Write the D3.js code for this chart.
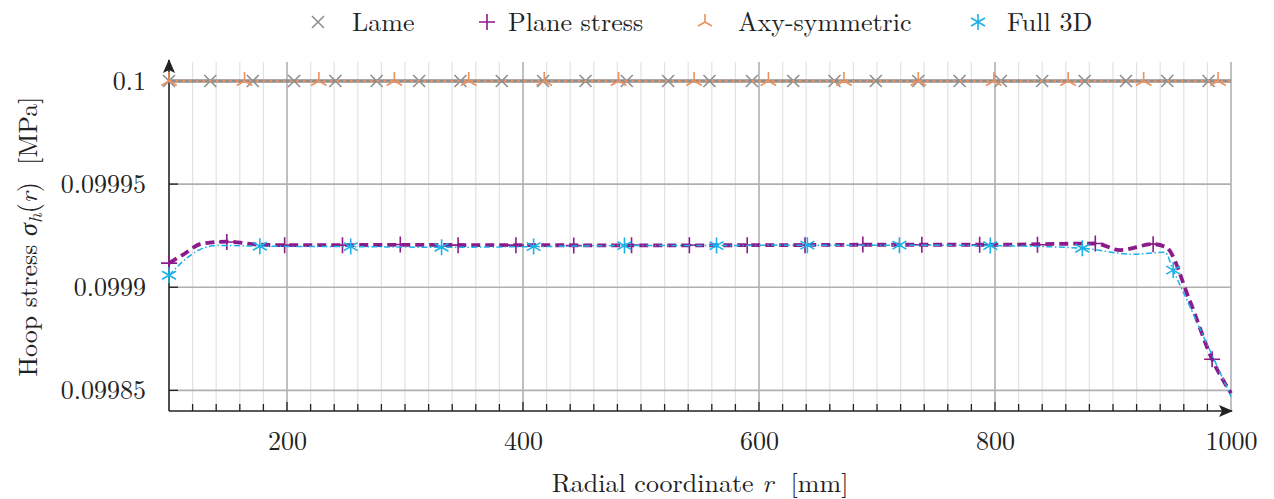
<!DOCTYPE html>
<html>
<head>
<meta charset="utf-8">
<script src="https://cdn.jsdelivr.net/npm/d3@7"></script>
<style>
  body { margin: 0; background: #fff; }
</style>
</head>
<body>
<svg id="chart" width="1274" height="499"></svg>
<script>
// ---- data ----
const xTicks = [200, 400, 600, 800, 1000]
const yTicks = [0.1, 0.09995, 0.0999, 0.09985]

// Lame: flat line, markers every few nodes
const lameLineR = [100, 1000]
const lameLineV = [0.1, 0.1]
const lameMarkR = [100, 135, 171, 206, 241, 276, 312, 347, 382, 417, 453, 488, 523,
  558, 594, 629, 664, 699, 735, 770, 805, 840, 876, 911, 946, 981]
const lameMarkV = [0.1, 0.1, 0.1, 0.1, 0.1, 0.1, 0.1, 0.1, 0.1, 0.1, 0.1, 0.1, 0.1,
  0.1, 0.1, 0.1, 0.1, 0.1, 0.1, 0.1, 0.1, 0.1, 0.1, 0.1, 0.1, 0.1]

// Axy-symmetric
const axyLineR = [100, 1000]
const axyLineV = [0.1, 0.1]
const axyMarkR = [100, 164, 227, 291, 354, 418, 481, 545, 608, 672, 735, 799, 862, 926, 989]
const axyMarkV = [0.1, 0.1, 0.1, 0.1, 0.1, 0.1, 0.1, 0.1, 0.1, 0.1, 0.1, 0.1, 0.1, 0.1, 0.1]

// Plane stress
const planeLineR = [100, 112, 128, 149, 175, 198, 300, 400, 500, 600, 700, 800, 885, 906, 934, 945, 965, 984, 1000]
const planeLineV = [0.0999117, 0.0999158, 0.0999212, 0.0999221, 0.0999207, 0.0999204, 0.0999205,
  0.0999204, 0.0999203, 0.0999204, 0.0999206, 0.0999206, 0.0999212, 0.099918, 0.0999209,
  0.0999194, 0.0998935, 0.0998651, 0.0998486]
const planeMarkR = [100, 149, 198, 247, 296, 345, 394, 443, 492, 541, 590, 639, 688, 738, 787, 836, 885, 934, 984]
const planeMarkV = [0.0999117, 0.0999219, 0.0999204, 0.0999204, 0.0999207, 0.0999204, 0.0999204,
  0.0999202, 0.0999204, 0.0999204, 0.0999204, 0.0999204, 0.0999207, 0.0999206, 0.0999206,
  0.0999206, 0.0999212, 0.0999209, 0.0998651]

// Full 3D
const fullLineR = [100, 113, 127, 142, 177, 254, 331, 409, 486, 564, 641, 719, 796, 874, 917, 944, 951, 975, 1000]
const fullLineV = [0.0999058, 0.0999131, 0.0999185, 0.0999203, 0.0999199, 0.0999197, 0.0999194,
  0.0999197, 0.0999202, 0.0999202, 0.0999204, 0.0999204, 0.0999202, 0.0999189, 0.099916,
  0.099917, 0.0999083, 0.0998783, 0.0998471]
const fullMarkR = [100, 177, 254, 331, 409, 486, 564, 641, 719, 796, 874, 951]
const fullMarkV = [0.0999058, 0.0999199, 0.0999197, 0.0999194, 0.0999197, 0.0999202, 0.0999202,
  0.0999204, 0.0999204, 0.0999202, 0.0999189, 0.0999083]

const legendNames = ['Lame', 'Plane stress', 'Axy-symmetric', 'Full 3D']

// ---- layout ----
const width = 1274
const height = 499
const box = { left: 169, right: 1231, top: 62, bottom: 411 }
const fontSize = 26
const serif = '"Latin Modern Roman"'

const colors = {
  lame: '#8f8f8f',
  axy: '#ea9160',
  plane: '#8b1a8b',
  full: '#1ab1ea',
}

const svg = d3.select('#chart')

svg.append('rect').attr('width', width).attr('height', height).attr('fill', '#fff')

const x = d3.scaleLinear([100, 1000], [box.left, box.right])
const y = d3.scaleLinear([0.09984, 0.1000092], [box.bottom, box.top])

// marker shapes
const markerPath = {
  cross: (s) => `M${-s},${-s}L${s},${s}M${-s},${s}L${s},${-s}`,
  plus: (s) => `M${-s},0H${s}M0,${-s}V${s}`,
  tri: (s) => {
    const a = Math.cos(Math.PI / 6) * s, b = Math.sin(Math.PI / 6) * s
    return `M0,0V${-s}M0,0L${-a},${b}M0,0L${a},${b}`
  },
  star: (s) => {
    const a = Math.cos(Math.PI / 6) * s, b = Math.sin(Math.PI / 6) * s
    return `M0,${-s}V${s}M${-a},${-b}L${a},${b}M${-a},${b}L${a},${-b}`
  },
}

// ---- grid ----
const grid = svg.append('g').attr('id', 'grid')
const minorX = d3.range(120, 1000, 20).filter((d) => d % 200 !== 0)
grid.selectAll('.minor')
  .data(minorX)
  .join('line')
  .attr('x1', (d) => x(d)).attr('x2', (d) => x(d))
  .attr('y1', box.top).attr('y2', box.bottom)
  .attr('stroke', '#e2e2e2').attr('stroke-width', 1.2)

grid.selectAll('.majorx')
  .data(xTicks)
  .join('line')
  .attr('x1', (d) => x(d)).attr('x2', (d) => x(d))
  .attr('y1', box.top).attr('y2', box.bottom)
  .attr('stroke', '#b0b0b0').attr('stroke-width', 1.6)

grid.selectAll('.majory')
  .data(yTicks)
  .join('line')
  .attr('x1', box.left).attr('x2', box.right)
  .attr('y1', (d) => y(d)).attr('y2', (d) => y(d))
  .attr('stroke', '#b0b0b0').attr('stroke-width', 1.6)

// ---- axes ----
const defs = svg.append('defs')
defs.append('marker')
  .attr('id', 'arrow')
  .attr('viewBox', '0 -6 14 12')
  .attr('refX', 13).attr('refY', 0)
  .attr('markerUnits', 'userSpaceOnUse')
  .attr('markerWidth', 14).attr('markerHeight', 12)
  .attr('orient', 'auto')
  .append('path')
  .attr('d', 'M0,-6L14,0L0,6L3,0Z')
  .attr('fill', '#222')

const axes = svg.append('g').attr('id', 'axes')

// x ticks (inward)
axes.selectAll('.xtick')
  .data(d3.range(120, 1000, 20))
  .join('line')
  .attr('x1', (d) => x(d)).attr('x2', (d) => x(d))
  .attr('y1', box.bottom).attr('y2', (d) => box.bottom - (d % 200 === 0 ? 9 : 7))
  .attr('stroke', '#222').attr('stroke-width', 1.3)

// y ticks (inward)
axes.selectAll('.ytick')
  .data(yTicks)
  .join('line')
  .attr('x1', box.left).attr('x2', box.left + 9)
  .attr('y1', (d) => y(d)).attr('y2', (d) => y(d))
  .attr('stroke', '#222').attr('stroke-width', 1.3)

axes.append('line')
  .attr('x1', box.left).attr('x2', box.right + 1)
  .attr('y1', box.bottom).attr('y2', box.bottom)
  .attr('stroke', '#222').attr('stroke-width', 1.6)
  .attr('marker-end', 'url(#arrow)')

axes.append('line')
  .attr('x1', box.left).attr('x2', box.left)
  .attr('y1', box.bottom).attr('y2', box.top - 2)
  .attr('stroke', '#222').attr('stroke-width', 1.6)
  .attr('marker-end', 'url(#arrow)')

// tick labels via d3 axes, domain hidden
const xAxis = svg.append('g')
  .attr('transform', `translate(0,${box.bottom})`)
  .call(d3.axisBottom(x).tickValues(xTicks).tickSize(0).tickPadding(21)
    .tickFormat(d3.format('d')))
xAxis.select('.domain').remove()

const yAxis = svg.append('g')
  .attr('transform', `translate(${box.left},0)`)
  .call(d3.axisLeft(y).tickValues(yTicks).tickSize(0).tickPadding(23)
    .tickFormat((d) => String(+d.toFixed(5))))
yAxis.select('.domain').remove()

;[xAxis, yAxis].forEach((a) => {
  a.attr('font-family', null).attr('font-size', null)
  a.selectAll('text')
    .attr('font-family', serif)
    .attr('font-size', fontSize)
    .attr('fill', '#222')
})

// axis titles
const xTitle = svg.append('text')
  .attr('x', (box.left + box.right) / 2)
  .attr('y', 492)
  .attr('text-anchor', 'middle')
  .attr('font-family', serif)
  .attr('font-size', fontSize)
  .attr('fill', '#222')
  .attr('xml:space', 'preserve')
xTitle.append('tspan').text('Radial coordinate ')
xTitle.append('tspan').attr('font-style', 'italic').text('r')
xTitle.append('tspan').text('  [mm]')

const yTitle = svg.append('text')
  .attr('transform', `translate(37,${(box.top + box.bottom) / 2}) rotate(-90)`)
  .attr('text-anchor', 'middle')
  .attr('font-family', serif)
  .attr('font-size', fontSize)
  .attr('fill', '#222')
  .attr('xml:space', 'preserve')
yTitle.append('tspan').text('Hoop stress ')
yTitle.append('tspan').attr('font-style', 'italic').text('σ')
yTitle.append('tspan').attr('font-style', 'italic').attr('dy', 5).attr('font-size', 19).text('h')
yTitle.append('tspan').attr('dy', -5).text('(')
yTitle.append('tspan').attr('font-style', 'italic').text('r')
yTitle.append('tspan').text(')  [MPa]')

// ---- series ----
const plot = svg.append('g').attr('id', 'series')
const zip = (rs, vs) => rs.map((r, i) => ({ r, v: vs[i] }))
const line = d3.line().x((d) => x(d.r)).y((d) => y(d.v)).curve(d3.curveMonotoneX)

const series = [
  { key: 'lame', line: zip(lameLineR, lameLineV), marks: zip(lameMarkR, lameMarkV),
    width: 3.5, dash: null, shape: 'cross', size: 6 },
  { key: 'axy', line: zip(axyLineR, axyLineV), marks: zip(axyMarkR, axyMarkV),
    width: 2.6, dash: '2.5,4.2', shape: 'tri', size: 9 },
  { key: 'plane', line: zip(planeLineR, planeLineV), marks: zip(planeMarkR, planeMarkV),
    width: 3.8, dash: '9,5', shape: 'plus', size: 8 },
  { key: 'full', line: zip(fullLineR, fullLineV), marks: zip(fullMarkR, fullMarkV),
    width: 1.5, dash: '6,2.5,1.5,2.5', shape: 'star', size: 8 },
]

series.forEach((s) => {
  const g = plot.append('g').attr('id', s.key)
  g.append('path')
    .attr('d', line(s.line))
    .attr('fill', 'none')
    .attr('stroke', colors[s.key])
    .attr('stroke-width', s.width)
    .attr('stroke-dasharray', s.dash)
  g.selectAll('path.mark')
    .data(s.marks)
    .join('path')
    .attr('class', 'mark')
    .attr('transform', (d) => `translate(${x(d.r)},${y(d.v)})`)
    .attr('d', markerPath[s.shape](s.size))
    .attr('fill', 'none')
    .attr('stroke', colors[s.key])
    .attr('stroke-width', 1.6)
})

// ---- legend ----
const legendItems = [
  { name: legendNames[0], key: 'lame', shape: 'cross', size: 6, mx: 318, tx: 352 },
  { name: legendNames[1], key: 'plane', shape: 'plus', size: 8, mx: 487, tx: 508 },
  { name: legendNames[2], key: 'axy', shape: 'tri', size: 8, mx: 705, tx: 738 },
  { name: legendNames[3], key: 'full', shape: 'star', size: 8, mx: 978, tx: 1007 },
]
const legend = svg.append('g').attr('id', 'legend')
legendItems.forEach((d) => {
  legend.append('path')
    .attr('transform', `translate(${d.mx},22)`)
    .attr('d', markerPath[d.shape](d.size))
    .attr('fill', 'none')
    .attr('stroke', colors[d.key])
    .attr('stroke-width', 1.6)
  legend.append('text')
    .attr('x', d.tx).attr('y', 31)
    .attr('font-family', serif)
    .attr('font-size', fontSize)
    .attr('fill', '#222')
    .text(d.name)
})
</script>
</body>
</html>
